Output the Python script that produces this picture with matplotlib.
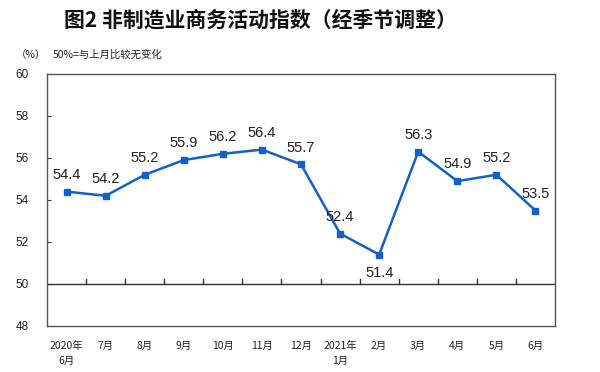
import numpy as np
import matplotlib
matplotlib.use("Agg")
import matplotlib.pyplot as plt

plt.rcParams["font.family"] = ["Liberation Sans", "Noto Sans CJK SC", "DejaVu Sans"]

months = ["2020年\n6月", "7月", "8月", "9月", "10月", "11月", "12月",
          "2021年\n1月", "2月", "3月", "4月", "5月", "6月"]
index_values = [54.4, 54.2, 55.2, 55.9, 56.2, 56.4, 55.7,
                52.4, 51.4, 56.3, 54.9, 55.2, 53.5]
y_ticks = [48, 50, 52, 54, 56, 58, 60]

line_color = "#1560C4"
cjk = ["Noto Sans CJK SC", "DejaVu Sans"]

fig = plt.figure(figsize=(6.0, 3.72), dpi=100)
ax = fig.add_axes([47 / 600, 1 - 326 / 372, 508 / 600, 252 / 372])

x = np.arange(len(index_values))
ax.plot(x, index_values, color=line_color, linewidth=1.8,
        marker="s", markersize=4.5, zorder=3)

for i, v in enumerate(index_values):
    if i == 8:
        ax.annotate(f"{v:.1f}", (i, v), xytext=(0, -8), textcoords="offset points",
                    ha="center", va="top", fontsize=10.5, color="#222222")
    else:
        ax.annotate(f"{v:.1f}", (i, v), xytext=(0, 7), textcoords="offset points",
                    ha="center", va="bottom", fontsize=10.5, color="#222222")

# baseline at 50 with upward ticks at category boundaries
ax.axhline(50, color="#333333", linewidth=1.0, zorder=2)
for b in np.arange(0.5, len(index_values) - 1, 1.0):
    ax.plot([b, b], [50, 50.25], color="#333333", linewidth=1.0, zorder=2)

ax.set_xlim(-0.5, len(index_values) - 0.5)
ax.set_ylim(48, 60)
ax.set_yticks(y_ticks)
ax.set_yticklabels([str(t) for t in y_ticks], fontsize=8.5, color="#222222")
ax.tick_params(axis="y", direction="in", length=3, pad=13, color="#333333")
ax.set_xticks([])
for s in ax.spines.values():
    s.set_color("#555555")
    s.set_linewidth(1.0)

for i, m in enumerate(months):
    ax.text(i, 47.3, m, ha="center", va="top", fontsize=7.5, family=cjk,
            color="#222222", linespacing=1.6)

fig.text(260 / 600, 1 - 20 / 372, "图2 非制造业商务活动指数（经季节调整）",
         ha="center", va="center", fontsize=15, fontweight="bold", family=cjk,
         color="#111111")
fig.text(16 / 600, 1 - 55 / 372, "（%）", ha="left", va="center",
         fontsize=7.5, family=cjk, color="#222222")
fig.text(53 / 600, 1 - 55 / 372, "50%=与上月比较无变化", ha="left", va="center",
         fontsize=7.5, family=cjk, color="#222222")

fig.savefig("out.png", dpi=100)
